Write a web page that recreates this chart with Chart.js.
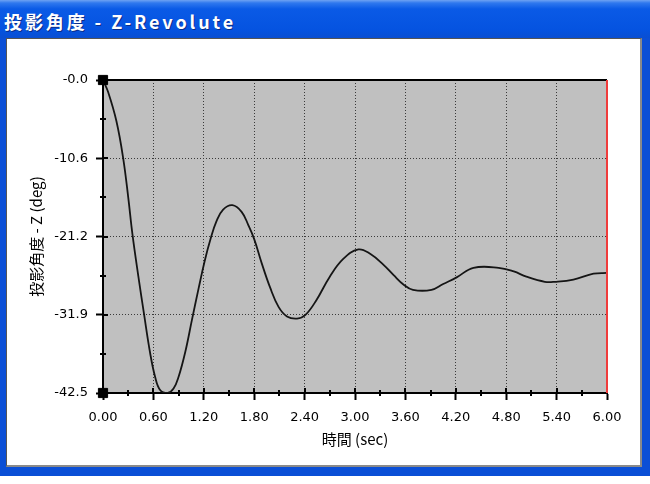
<!DOCTYPE html>
<html>
<head>
<meta charset="utf-8">
<script src="https://cdn.jsdelivr.net/npm/chart.js@4.4.0/dist/chart.umd.min.js"></script>
<style>
  html, body { margin: 0; padding: 0; background: #fff; }
  #win { position: absolute; left: 0; top: 0; width: 650px; height: 476px; background: #0b4fd6; }
  #titlebar { position: absolute; left: 0; top: 0; width: 650px; height: 38px;
    background: linear-gradient(#6ea2f2 0px, #2f78ee 3px, #0a5ae6 9px, #0553e0 30px, #0a4fd2 38px); }
  #titletext { position: absolute; left: 4px; top: 11px; color: #fff; font: bold 18px "Noto Sans CJK JP", sans-serif;
    line-height: 20px; letter-spacing: 2.9px; text-shadow: 1px 1px #0a2e8a; white-space: nowrap; }
  #client { position: absolute; left: 6px; top: 38px; width: 633px; height: 426px; background: #fff;
    border-left: 1px solid #555; border-top: 1px solid #555; border-right: 2px solid #8a8a8a; border-bottom: 2px solid #8a8a8a; }
  #myChart { position: absolute; left: 0; top: 0; }
</style>
</head>
<body>
<div id="win">
  <div id="titlebar"><div id="titletext">投影角度 - Z-Revolute</div></div>
  <div id="client"></div>
</div>
<canvas id="myChart" width="650" height="484"></canvas>
<script>
// curve (sec, deg)
let timeSec = [0.00, 0.06, 0.16, 0.24, 0.30, 0.35, 0.42, 0.49, 0.56, 0.62, 0.68, 0.77, 0.84, 0.90, 0.98,
  1.06, 1.14, 1.21, 1.28, 1.35, 1.43, 1.54, 1.65, 1.73, 1.80, 1.89, 1.99, 2.09, 2.19, 2.31, 2.41, 2.54,
  2.70, 2.86, 3.04, 3.18, 3.34, 3.46, 3.58, 3.69, 3.91, 4.05, 4.21, 4.41, 4.71, 4.89, 5.04, 5.26, 5.38,
  5.60, 5.84, 6.00]
let angleDeg = [0, -1.6, -5.6, -10.6, -15.9, -20.9, -26.6, -31.9, -37.0, -40.3, -42.1, -42.5, -41.9, -40.3, -36.9,
  -32.5, -28.2, -24.6, -21.6, -19.2, -17.6, -17.0, -17.9, -19.7, -21.6, -24.9, -28.2, -30.8, -32.1, -32.4, -31.9, -29.9,
  -26.7, -24.3, -23.0, -23.6, -25.1, -26.5, -27.8, -28.5, -28.5, -27.7, -26.8, -25.5, -25.5, -26.0, -26.7, -27.4, -27.4,
  -27.1, -26.3, -26.2]

// red time cursor and the black end markers on the y axis
let cursorTime = [6, 6]
let cursorAngle = [0, -42.5]
let markerTime = [0, 0]
let markerAngle = [0, -42.5]

let xTickValues = [0, 0.6, 1.2, 1.8, 2.4, 3.0, 3.6, 4.2, 4.8, 5.4, 6.0]
let xTickLabels = ['0.00', '0.60', '1.20', '1.80', '2.40', '3.00', '3.60', '4.20', '4.80', '5.40', '6.00']
let yTickValues = [-42.5, -31.875, -21.25, -10.625, 0]
let yTickLabels = ['-42.5', '-31.9', '-21.2', '-10.6', '-0.0']

const toPoints = (xs, ys) => xs.map((x, i) => ({ x: x, y: ys[i] }))
const edgeColor = (n) => (c) => (c.index === 0 || c.index === n - 1) ? 'rgba(0,0,0,0)' : '#3a3a3a'

// gray plot background, solid top edge, minor ticks
const plotFrame = {
  id: 'plotFrame',
  beforeDraw(chart) {
    const a = chart.chartArea, ctx = chart.ctx
    ctx.save()
    ctx.fillStyle = '#c0c0c0'
    ctx.fillRect(a.left, a.top, a.right - a.left, a.bottom - a.top)
    ctx.restore()
  },
  beforeDatasetsDraw(chart) {
    const a = chart.chartArea, ctx = chart.ctx
    const xs = chart.scales.x, ys = chart.scales.y
    ctx.save()
    ctx.strokeStyle = '#000'
    ctx.lineWidth = 2
    ctx.beginPath()
    ctx.moveTo(a.left, a.top)
    ctx.lineTo(a.right, a.top)
    ctx.stroke()
    ctx.beginPath()
    for (let i = 0; i < xTickValues.length - 1; i++) {
      let px = Math.round(xs.getPixelForValue((xTickValues[i] + xTickValues[i + 1]) / 2))
      ctx.moveTo(px, a.bottom - 3); ctx.lineTo(px, a.bottom + 3)
      let mx = Math.round(xs.getPixelForValue(xTickValues[i + 1]))
      ctx.moveTo(mx, a.bottom - 5); ctx.lineTo(mx, a.bottom)
    }
    for (let i = 0; i < yTickValues.length - 1; i++) {
      let py = Math.round(ys.getPixelForValue((yTickValues[i] + yTickValues[i + 1]) / 2))
      ctx.moveTo(a.left - 3, py); ctx.lineTo(a.left + 3, py)
      let my = Math.round(ys.getPixelForValue(yTickValues[i + 1]))
      ctx.moveTo(a.left, my); ctx.lineTo(a.left + 5, my)
    }
    ctx.stroke()
    ctx.restore()
  }
}

new Chart(document.querySelector('#myChart'), {
  type: 'line',
  data: {
    datasets: [{
      data: toPoints(timeSec, angleDeg),
      borderColor: '#151515',
      borderWidth: 1.8,
      pointRadius: 0,
      tension: 0.4,
      order: 2
    }, {
      data: toPoints(cursorTime, cursorAngle),
      borderColor: '#f03c3c',
      borderWidth: 2,
      pointRadius: 0,
      clip: false,
      order: 1
    }, {
      data: toPoints(markerTime, markerAngle),
      showLine: false,
      pointStyle: 'rect',
      pointRadius: 6.5,
      backgroundColor: '#000',
      borderColor: '#000',
      clip: false,
      order: 0
    }]
  },
  options: {
    responsive: false,
    devicePixelRatio: 1,
    animation: false,
    layout: { padding: { left: 27, right: 43, top: 80, bottom: 36 } },
    plugins: { legend: { display: false }, tooltip: { enabled: false } },
    scales: {
      x: {
        type: 'linear', min: 0, max: 6,
        afterFit: s => { s.height = 55 },
        afterBuildTicks: s => { s.ticks = xTickValues.map(v => ({ value: v })) },
        ticks: { callback: (v, i) => xTickLabels[i], color: '#000', font: { family: 'DejaVu Sans', size: 13 },
          padding: 10, maxRotation: 0, autoSkip: false },
        grid: { color: edgeColor(xTickValues.length), tickColor: '#000', tickLength: 7, tickWidth: 2, lineWidth: 1 },
        border: { color: '#000', width: 2, dash: [1, 2] },
        title: { display: true, text: '時間 (sec)', color: '#000', font: { family: 'Noto Sans CJK JP', size: 15 }, padding: 0 }
      },
      y: {
        type: 'linear', min: -42.5, max: 0,
        afterFit: s => { s.width = 76 },
        afterBuildTicks: s => { s.ticks = yTickValues.map(v => ({ value: v })) },
        ticks: { callback: (v, i) => yTickLabels[i], color: '#000', font: { family: 'DejaVu Sans', size: 13 },
          padding: 8, autoSkip: false },
        grid: { color: edgeColor(yTickValues.length), tickColor: '#000', tickLength: 7, tickWidth: 2, lineWidth: 1 },
        border: { color: '#000', width: 2, dash: [1, 2] },
        title: { display: true, text: '投影角度 - Z (deg)', color: '#000', font: { family: 'Noto Sans CJK JP', size: 15 }, padding: 0 }
      }
    }
  },
  plugins: [plotFrame]
})
</script>
</body>
</html>
